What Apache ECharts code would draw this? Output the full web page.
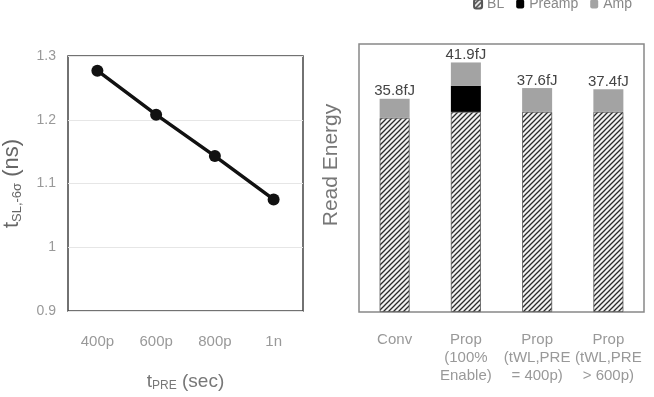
<!DOCTYPE html>
<html>
<head>
<meta charset="utf-8">
<script src="https://cdn.jsdelivr.net/npm/echarts@6/dist/echarts.min.js"></script>
<style>
  html, body { margin: 0; padding: 0; background: #fff; }
  #main { width: 654px; height: 397px; }
</style>
</head>
<body>
<div id="main"></div>
<script>
// left: sense line delay vs precharge time
var tpreLabels = ["400p", "600p", "800p", "1n"];
var tslValues = [1.277, 1.208, 1.143, 1.075];

// right: read energy breakdown (fJ)
var energyCats = [
  "Conv",
  "Prop\n(100%\nEnable)",
  "Prop\n(tWL,PRE\n= 400p)",
  "Prop\n(tWL,PRE\n> 600p)"
];
var blValues = [32.6, 33.6, 33.6, 33.6];
var preampValues = [0, 4.4, 0, 0];
var ampValues = [3.2, 3.9, 4.0, 3.8];
var totalLabels = ["35.8fJ", "41.9fJ", "37.6fJ", "37.4fJ"];

// hatch pattern for BL
var makeHatch = function() {
  var c = document.createElement("canvas");
  c.width = 5;
  c.height = 5;
  var ctx = c.getContext("2d");
  ctx.fillStyle = "#f2f2f2";
  ctx.fillRect(0, 0, 5, 5);
  ctx.strokeStyle = "#2a2a2a";
  ctx.lineWidth = 1.3;
  ctx.beginPath();
  ctx.moveTo(0, 5); ctx.lineTo(5, 0);
  ctx.moveTo(-1, 1); ctx.lineTo(1, -1);
  ctx.moveTo(4, 6); ctx.lineTo(6, 4);
  ctx.stroke();
  return c;
};

var labelFont = "'Liberation Sans', Arial, sans-serif";

var myChart = echarts.init(document.getElementById("main"));
var option = {
  animation: false,
  legend: {
    top: -8,
    right: 17,
    itemWidth: 8,
    itemHeight: 9,
    itemGap: 12,
    textStyle: { color: "#888", fontSize: 14, fontFamily: labelFont },
    data: ["BL", "Preamp", "Amp"]
  },
  grid: [
    { left: 64, top: 56, width: 239, height: 259, show: true, borderColor: "#444", borderWidth: 1.5 },
    { left: 359, top: 44, width: 285, height: 268, show: true, borderColor: "#888", borderWidth: 1.5 }
  ],
  xAxis: [
    {
      gridIndex: 0,
      type: "category",
      data: tpreLabels,
      axisTick: { show: false },
      axisLine: { show: false },
      axisLabel: { color: "#999", fontSize: 15, margin: 23, fontFamily: labelFont },
      name: "{t|t}{s|PRE}{t| (sec)}",
      nameLocation: "middle",
      nameGap: 60,
      nameTextStyle: {
        rich: {
          t: { fontSize: 19, color: "#777", fontFamily: labelFont },
          s: { fontSize: 12, color: "#777", verticalAlign: "bottom", padding: [9, 0, 0, 0], fontFamily: labelFont }
        }
      }
    },
    {
      gridIndex: 1,
      type: "category",
      data: energyCats,
      axisTick: { show: false },
      axisLine: { show: false },
      axisLabel: { color: "#999", fontSize: 15, lineHeight: 18, margin: 19, fontFamily: labelFont, interval: 0 }
    }
  ],
  yAxis: [
    {
      gridIndex: 0,
      type: "value",
      min: 0.9,
      max: 1.3,
      interval: 0.1,
      axisLine: { show: false },
      axisTick: { show: false },
      axisLabel: { color: "#999", fontSize: 14, margin: 12, fontFamily: labelFont },
      splitLine: { lineStyle: { color: "#e6e6e6" } },
      name: "{t|t}{s|SL,-6σ}{t| (ns)}",
      nameLocation: "middle",
      nameRotate: 90,
      nameGap: 44,
      nameTextStyle: {
        rich: {
          t: { fontSize: 22, color: "#666", fontFamily: labelFont },
          s: { fontSize: 13, color: "#666", verticalAlign: "bottom", padding: [11, 0, 0, 0], fontFamily: labelFont }
        }
      }
    },
    {
      gridIndex: 1,
      type: "value",
      min: 0,
      max: 45,
      axisLine: { show: false },
      axisTick: { show: false },
      axisLabel: { show: false },
      splitLine: { show: false },
      name: "Read Energy",
      nameLocation: "middle",
      nameRotate: 90,
      nameGap: 17,
      nameTextStyle: { color: "#777", fontSize: 21, fontFamily: labelFont, padding: [0, 0, 0, 26] }
    }
  ],
  series: [
    {
      type: "line",
      xAxisIndex: 0,
      yAxisIndex: 0,
      data: tslValues,
      symbol: "circle",
      symbolSize: 12,
      lineStyle: { color: "#111", width: 3.5 },
      itemStyle: { color: "#111" }
    },
    {
      name: "BL",
      type: "bar",
      xAxisIndex: 1,
      yAxisIndex: 1,
      stack: "e",
      barWidth: 30,
      data: blValues,
      itemStyle: { color: { image: makeHatch(), repeat: "repeat" }, borderColor: "#555", borderWidth: 0.8 }
    },
    {
      name: "Preamp",
      type: "bar",
      xAxisIndex: 1,
      yAxisIndex: 1,
      stack: "e",
      barWidth: 30,
      data: preampValues,
      itemStyle: { color: "#000" }
    },
    {
      name: "Amp",
      type: "bar",
      xAxisIndex: 1,
      yAxisIndex: 1,
      stack: "e",
      barWidth: 30,
      data: ampValues,
      itemStyle: { color: "#a3a3a3" },
      label: {
        show: true,
        position: "top",
        distance: 0,
        color: "#444",
        fontSize: 15,
        fontFamily: labelFont,
        formatter: function(p) { return totalLabels[p.dataIndex]; }
      }
    }
  ]
};
myChart.setOption(option);
</script>
</body>
</html>
